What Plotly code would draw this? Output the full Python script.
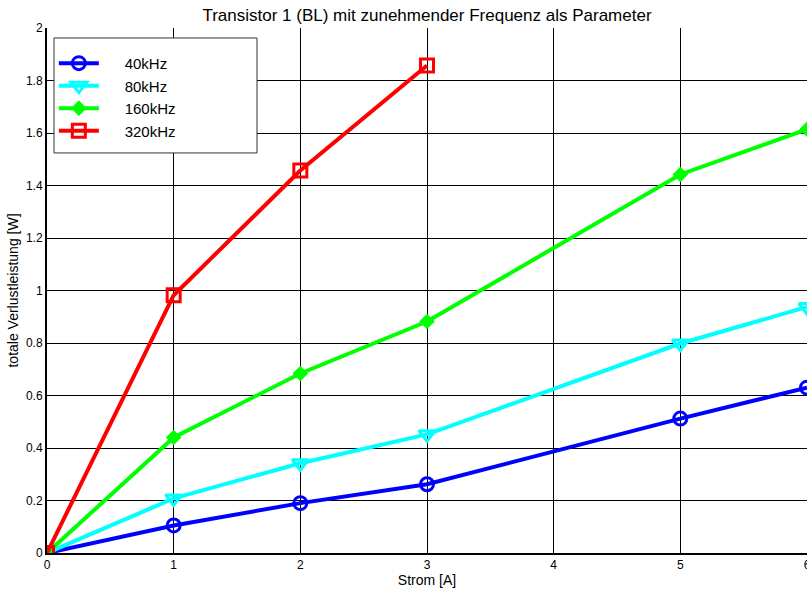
import plotly.graph_objects as go

strom = [0, 1, 2, 3, 5, 6]
strom_320 = [0, 1, 2, 3]

p_40k = [0, 0.105, 0.19, 0.262, 0.512, 0.63]
p_80k = [0, 0.208, 0.342, 0.452, 0.798, 0.937]
p_160k = [0, 0.44, 0.684, 0.882, 1.442, 1.614]
p_320k = [0, 0.982, 1.457, 1.857]

x_ticks = [0, 1, 2, 3, 4, 5, 6]
y_ticks = [0, 0.2, 0.4, 0.6, 0.8, 1, 1.2, 1.4, 1.6, 1.8, 2]
y_ticktext = ["0", "0.2", "0.4", "0.6", "0.8", "1", "1.2", "1.4", "1.6", "1.8", "2"]

NB = "\u00a0"

series = [
    ("40kHz", strom, p_40k, "#0000ff", "circle-open", 13, 3),
    ("80kHz", strom, p_80k, "#00ffff", "triangle-down-open", 14, 3),
    ("160kHz", strom, p_160k, "#00ff00", "diamond", 12, 0),
    ("320kHz", strom_320, p_320k, "#ff0000", "square-open", 13, 3),
]

fig = go.Figure()
for name, xs, ys, color, symbol, size, mlw in series:
    fig.add_trace(go.Scatter(
        x=xs, y=ys, name=NB * 5 + name, mode="lines+markers",
        line=dict(color=color, width=4),
        marker=dict(symbol=symbol, size=size, color=color,
                    line=dict(color=color, width=mlw)),
    ))

axis_font = dict(family="Liberation Sans, Arial, sans-serif", size=12, color="black")

# white legend frame drawn over the grid; the legend itself sits inside it
fig.add_shape(type="rect", xref="paper", yref="paper",
              x0=0.0092, x1=0.2763, y0=0.762, y1=0.981,
              fillcolor="white", line=dict(color="#333333", width=1),
              layer="above")

fig.update_layout(
    width=807, height=594,
    margin=dict(l=47, r=0, t=28, b=41),
    paper_bgcolor="white", plot_bgcolor="white",
    font=dict(family="Liberation Sans, Arial, sans-serif", color="black"),
    title=dict(text="Transistor 1 (BL) mit zunehmender Frequenz als Parameter",
               x=0.5, xref="paper", y=0.974, yanchor="middle",
               font=dict(size=17, color="black")),
    showlegend=True,
    legend=dict(x=0.009, y=0.964, xanchor="left", yanchor="top",
                bgcolor="rgba(0,0,0,0)", borderwidth=0,
                font=dict(size=15, color="black"),
                tracegroupgap=0, itemwidth=40),
)

fig.update_xaxes(
    range=[0, 6], tickvals=x_ticks, ticktext=[str(v) for v in x_ticks],
    showgrid=True, gridcolor="black", gridwidth=1,
    showline=True, linecolor="black", linewidth=2,
    zeroline=False, ticks="inside", ticklen=5, tickcolor="black",
    tickfont=axis_font, ticklabeloverflow="allow", automargin=False,
    title=dict(text="Strom [A]", font=dict(size=14, color="black"), standoff=4),
)
fig.update_yaxes(
    range=[0, 2], tickvals=y_ticks, ticktext=y_ticktext,
    showgrid=True, gridcolor="black", gridwidth=1,
    showline=True, linecolor="black", linewidth=2,
    zeroline=False, ticks="inside", ticklen=5, tickcolor="black",
    tickfont=axis_font, automargin=False,
    title=dict(text="totale Verlustleistung [W]", font=dict(size=14, color="black"), standoff=4),
)

fig.write_html("out.html")
